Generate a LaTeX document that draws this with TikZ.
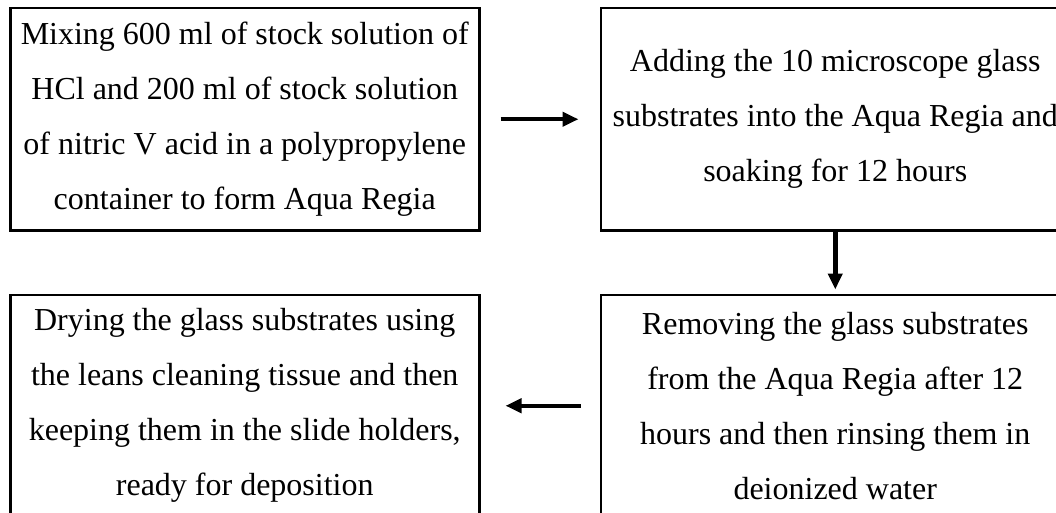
\documentclass[tikz,border=0pt]{standalone}
\usepackage{fontspec}
\setmainfont{Liberation Serif}
\usetikzlibrary{arrows.meta,positioning}
\tikzset{
  %Define standard arrow tip
  >={Triangle[length=16pt,width=14pt]},
  %Define style for the process boxes
  stage/.style={
    rectangle,
    draw=black, line width=2.5pt,
    minimum width=469pt,
    minimum height=222pt,
    inner sep=0pt,
    align=center,
    font=\fontsize{32}{55}\selectfont},
  % Define arrow style
  flow/.style={
    ->,
    line width=4.5pt}
}
\begin{document}
\begin{tikzpicture}[x=1pt,y=-1pt,node distance=119pt]
  \clip (0,0) rectangle (1056,513);
  \node[stage,anchor=north west] (mix) at (9,7)
    {Mixing 600 ml of stock solution of\\HCl and 200 ml of stock solution\\of nitric V acid in a polypropylene\\container to form Aqua Regia};
  \node[stage,right=of mix] (soak)
    {Adding the 10 microscope glass\\substrates into the Aqua Regia and\\soaking for 12 hours};
  \node[stage,below=62pt of soak] (rinse)
    {Removing the glass substrates\\from the Aqua Regia after 12\\hours and then rinsing them in\\deionized water};
  \node[stage,left=of rinse] (dry)
    {Drying the glass substrates using\\the leans cleaning tissue and then\\keeping them in the slide holders,\\ready for deposition};
  \draw[flow,shorten <=20pt,shorten >=21pt] (mix) -- (soak);
  \draw[flow,shorten >=4pt] (soak) -- (rinse);
  \draw[flow,shorten <=19pt,shorten >=25pt] (rinse) -- (dry);
\end{tikzpicture}
\end{document}
